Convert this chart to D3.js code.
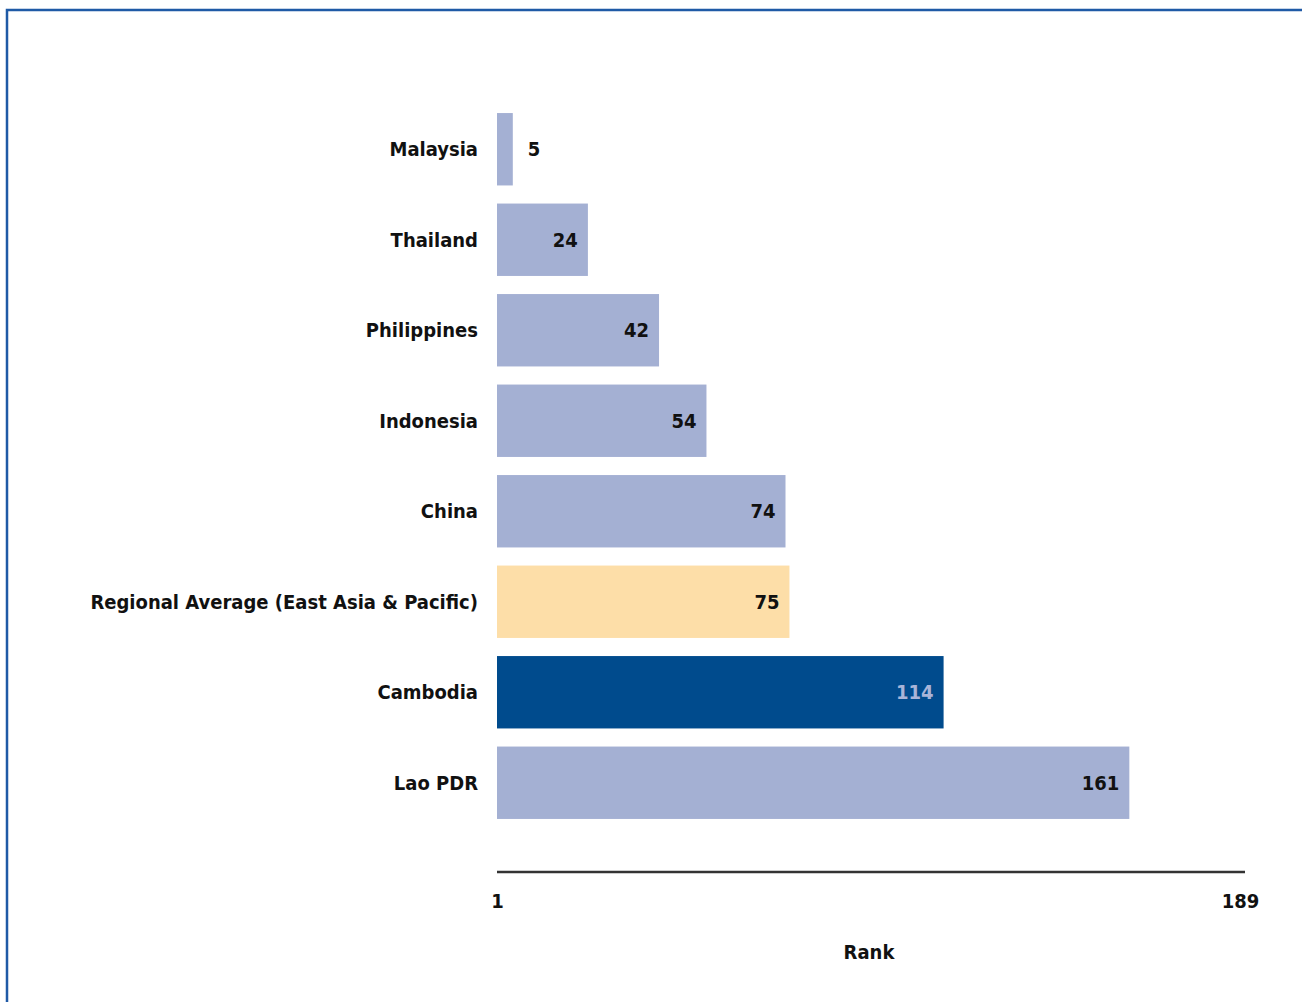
<!DOCTYPE html>
<html><head><meta charset="utf-8">
<script src="https://cdn.jsdelivr.net/npm/d3@7"></script>
<style>
html,body{margin:0;padding:0;background:#fff;}
svg{display:block;}
text{font-family:"DejaVu Sans Condensed","DejaVu Sans",sans-serif;font-weight:bold;}
</style></head>
<body>
<svg id="chart" width="1302" height="1002"></svg>
<script>
const categories = ["Malaysia","Thailand","Philippines","Indonesia","China","Regional Average (East Asia & Pacific)","Cambodia","Lao PDR"];
const ranks = [5,24,42,54,74,75,114,161];
const barKinds = ["country","country","country","country","country","regional","focus","country"];
const tickValues = [1,189];
const axisTitle = "Rank";

const fills = {country:"#a4b0d3", regional:"#fddea8", focus:"#004b8d"};
const labelColors = {country:"#111", regional:"#111", focus:"#a8b4d8"};

const svg = d3.select("#chart");

// frame border (left and top)
svg.append("path").attr("d","M7,1002 V10 H1302").attr("fill","none").attr("stroke","#1f5aa6").attr("stroke-width",2.5);

const x = d3.scaleLinear().domain([1,189]).range([497,1240]);
const y = d3.scaleBand().domain(categories).range([104,828]).paddingInner(0.2).paddingOuter(0.1);

const fs = 20;

const g = svg.append("g");
categories.forEach((c,i)=>{
  const v = ranks[i], k = barKinds[i];
  g.append("rect").attr("x",x(1)).attr("y",y(c)).attr("width",x(v)-x(1)).attr("height",y.bandwidth()).attr("fill",fills[k]);
  g.append("text").attr("x",478).attr("y",y(c)+y.bandwidth()/2).attr("dy","0.35em").attr("text-anchor","end")
    .attr("font-size",fs).attr("fill","#111").text(c);
  const inside = (x(v)-x(1)) > 40;
  g.append("text").attr("x", inside ? x(v)-10 : x(v)+15).attr("y",y(c)+y.bandwidth()/2).attr("dy","0.35em")
    .attr("text-anchor", inside ? "end" : "start").attr("font-size",fs).attr("fill",labelColors[k]).text(v);
});

const axis = d3.axisBottom(x).tickValues(tickValues).tickSize(0).tickPadding(22).tickFormat(d3.format("d"));
const ag = svg.append("g").attr("transform","translate(0,872)").call(axis);
ag.select(".domain").attr("stroke","#333").attr("stroke-width",2.5).attr("d","M"+x(1)+",0H1245");
ag.selectAll(".tick text").attr("font-size",fs).attr("fill","#111").attr("font-family",null);

svg.append("text").attr("x",869).attr("y",952).attr("dy","0.35em").attr("text-anchor","middle").attr("font-size",fs).attr("fill","#111").text(axisTitle);
</script>
</body></html>
